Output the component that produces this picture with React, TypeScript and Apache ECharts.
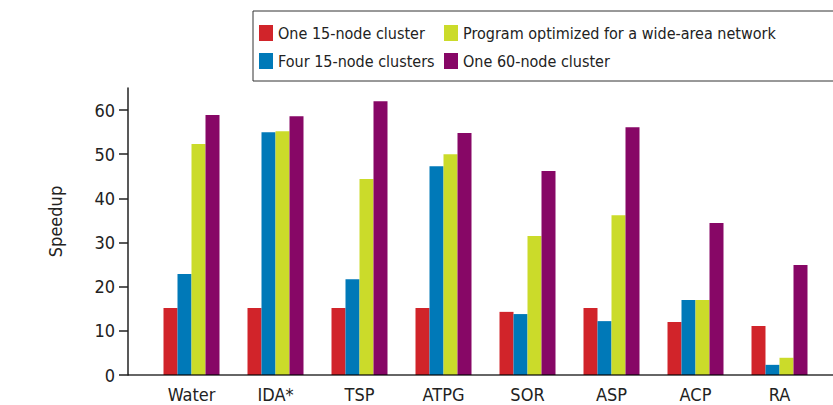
import React, { useEffect, useRef } from "react";
import * as echarts from "echarts";

const categories = ["Water", "IDA*", "TSP", "ATPG", "SOR", "ASP", "ACP", "RA"];
const seriesNames = [
  "One 15-node cluster",
  "Four 15-node clusters",
  "Program optimized for a wide-area network",
  "One 60-node cluster",
];
const one15 = [15.2, 15.2, 15.2, 15.2, 14.3, 15.2, 12.0, 11.1];
const four15 = [22.9, 55.0, 21.7, 47.3, 13.8, 12.2, 17.0, 2.3];
const optimized = [52.3, 55.2, 44.4, 50.0, 31.5, 36.2, 17.0, 3.9];
const one60 = [58.9, 58.6, 62.0, 54.8, 46.2, 56.1, 34.4, 24.9];
const yTicks = [0, 10, 20, 30, 40, 50, 60];
const colors = ["#D1242A", "#0079B8", "#CBDB2A", "#870766"];

const FONT = "'Liberation Sans Narrow', 'DejaVu Sans Condensed', 'Liberation Sans', sans-serif";

export default function App() {
  const ref = useRef<HTMLDivElement>(null);
  useEffect(() => {
    if (!ref.current) return;
    const chart = echarts.init(ref.current, undefined, { renderer: "svg" });
    const values = [one15, four15, optimized, one60];
    const legendBase = {
      orient: "vertical",
      top: 25,
      padding: 0,
      itemWidth: 14,
      itemHeight: 16,
      itemGap: 12,
      icon: "rect",
      textStyle: { fontFamily: FONT, fontSize: 16, color: "#222" },
    };
    chart.setOption({
      animation: false,
      textStyle: { fontFamily: FONT },
      grid: { left: 149.5, width: 672, top: 88, bottom: 30, containLabel: false },
      legend: [
        { ...legendBase, left: 259, data: [seriesNames[0], seriesNames[1]] },
        { ...legendBase, left: 444, data: [seriesNames[2], seriesNames[3]] },
      ],
      xAxis: {
        type: "category",
        data: categories,
        axisLine: { show: false },
        axisTick: { show: false },
        axisLabel: { fontFamily: FONT, fontSize: 18, color: "#222", margin: 10 },
      },
      yAxis: {
        type: "value",
        min: 0,
        max: 65,
        interval: 10,
        offset: 21.5,
        splitLine: { show: false },
        axisLine: { show: true, lineStyle: { color: "#222", width: 1.5 } },
        axisTick: { show: true, length: 9, customValues: yTicks, lineStyle: { color: "#222", width: 1.5 } },
        axisLabel: { fontFamily: FONT, fontSize: 18, color: "#222", margin: 13, customValues: yTicks },
        name: "Speedup",
        nameLocation: "middle",
        nameGap: 64,
        nameRotate: 90,
        nameTextStyle: { fontFamily: FONT, fontSize: 18, color: "#222", padding: [0, 0, 0, 20] },
      },
      graphic: [
        {
          type: "rect",
          shape: { x: 253, y: 11, width: 620, height: 70 },
          style: { fill: "none", stroke: "#333", lineWidth: 1 },
          z: 0,
        },
        {
          type: "line",
          shape: { x1: 128, y1: 375, x2: 833, y2: 375 },
          style: { stroke: "rgba(0,0,0,0.6)", lineWidth: 2 },
          z: 100,
        },
      ],
      series: seriesNames.map((name, i) => ({
        name,
        type: "bar",
        data: values[i],
        barWidth: 14,
        barGap: "0%",
        itemStyle: { color: colors[i] },
      })),
    });
    return () => chart.dispose();
  }, []);
  return (
    <div
      ref={ref}
      style={{ position: "fixed", left: 0, top: 0, width: 833, height: 405, background: "#fff" }}
    />
  );
}
